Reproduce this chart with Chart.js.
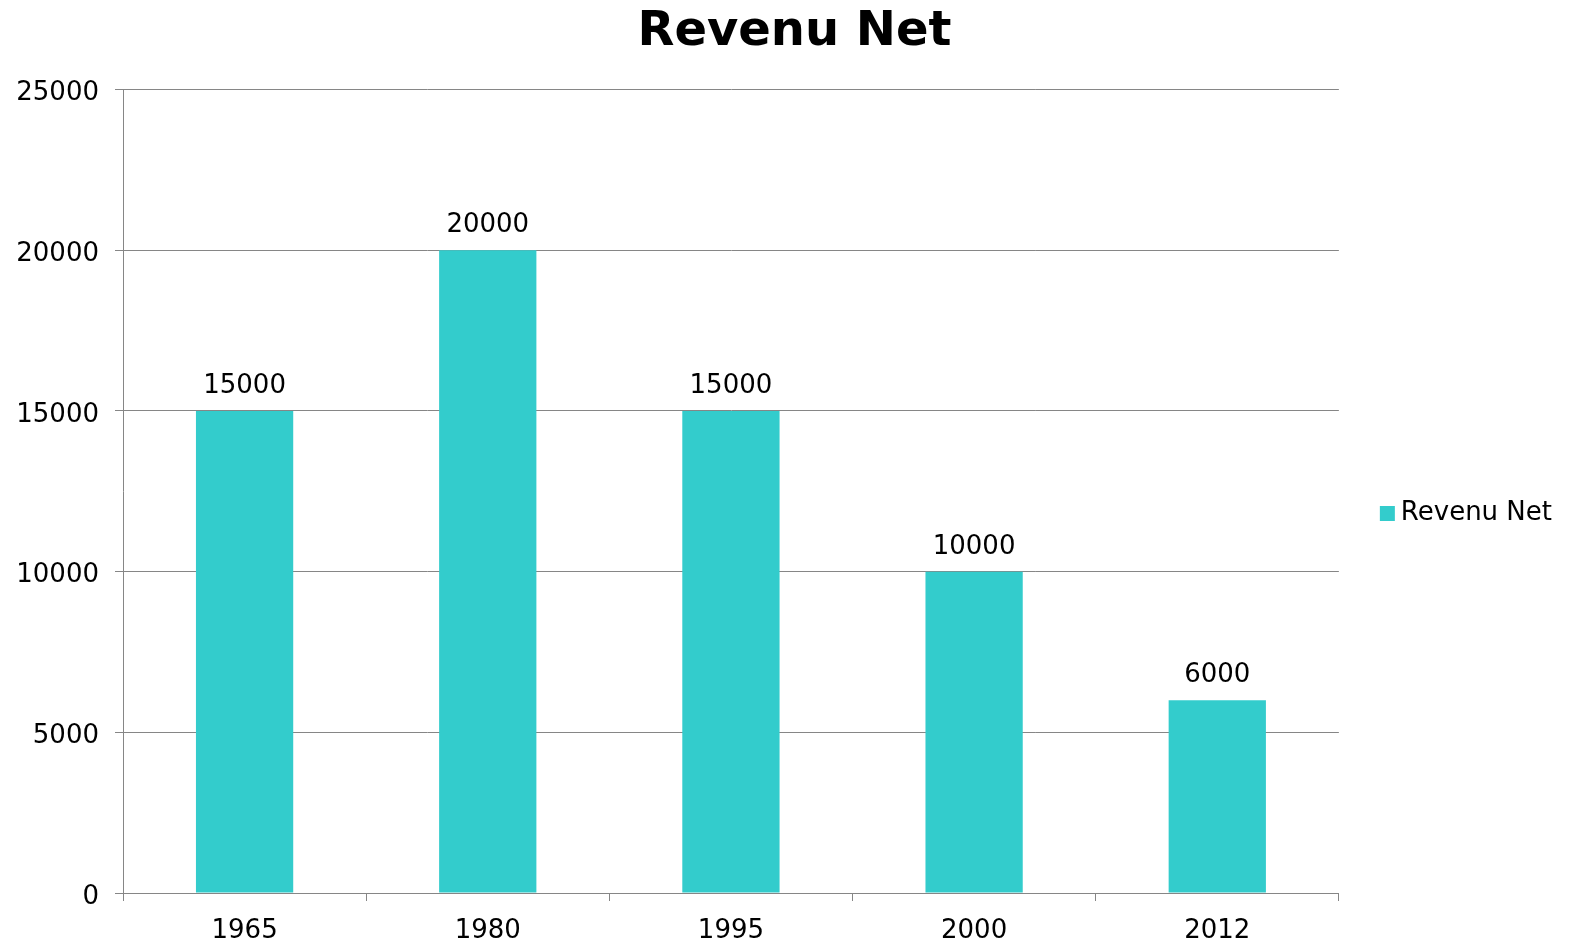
<!DOCTYPE html>
<html>
<head>
<meta charset="utf-8">
<script src="https://cdn.jsdelivr.net/npm/chart.js@4/dist/chart.umd.min.js"></script>
<style>
html,body{margin:0;padding:0;background:#fff;}
#wrap{width:1573px;height:943px;position:relative;}
</style>
</head>
<body>
<div id="wrap"><canvas id="c" width="1573" height="943"></canvas></div>
<script>
const categories = ['1965', '1980', '1995', '2000', '2012'];
const revenuNet = [15000, 20000, 15000, 10000, 6000];
const seriesName = 'Revenu Net';
const chartTitle = 'Revenu Net';
const yTicks = [0, 5000, 10000, 15000, 20000, 25000];

const FONT = 'DejaVu Sans';
const GRID = '#868686';
const BAR = '#33CCCC';

const barLabels = {
  id: 'barLabels',
  afterDatasetsDraw(chart) {
    const ctx = chart.ctx;
    ctx.save();
    ctx.font = '26px "' + FONT + '"';
    ctx.fillStyle = '#000';
    ctx.textAlign = 'center';
    ctx.textBaseline = 'alphabetic';
    chart.data.datasets.forEach((ds, di) => {
      chart.getDatasetMeta(di).data.forEach((el, i) => {
        ctx.fillText(String(ds.data[i]), el.x, el.y - 18);
      });
    });
    ctx.restore();
  }
};

// centre the title over the whole figure (as in the reference), not over the padded box
const titleShift = {
  id: 'titleShift',
  afterLayout(chart) {
    if (chart.titleBlock) {
      chart.titleBlock.left += 7;
      chart.titleBlock.right += 7;
    }
  }
};

new Chart(document.getElementById('c'), {
  type: 'bar',
  data: {
    labels: categories,
    datasets: [{
      label: seriesName,
      data: revenuNet,
      backgroundColor: BAR,
      borderColor: BAR,
      borderWidth: 0,
      categoryPercentage: 1.0,
      barPercentage: 0.4
    }]
  },
  plugins: [barLabels, titleShift],
  options: {
    responsive: false,
    animation: false,
    devicePixelRatio: 1,
    layout: { padding: { left: 13, right: 11, top: 0, bottom: 0 } },
    plugins: {
      title: {
        display: true,
        text: chartTitle,
        color: '#000',
        font: { family: FONT, size: 48, weight: 'bold', lineHeight: 1.2 },
        padding: { top: 4, bottom: 28 }
      },
      legend: {
        display: true,
        position: 'right',
        title: { display: true, text: '', font: { size: 10, lineHeight: 1 }, padding: { top: 37, bottom: 37 } },
        labels: {
          color: '#000',
          font: { family: FONT, size: 26 },
          boxWidth: 1,
          boxHeight: 1,
          padding: 48,
          generateLabels(chart) {
            return chart.data.datasets.map((ds, i) => ({
              text: ds.label,
              fillStyle: ds.backgroundColor,
              strokeStyle: ds.backgroundColor,
              fontColor: '#000',
              lineWidth: 14,
              lineJoin: 'miter',
              hidden: false,
              datasetIndex: i
            }));
          }
        }
      },
      tooltip: { enabled: false }
    },
    scales: {
      x: {
        grid: { display: true, offset: true, drawOnChartArea: false, drawTicks: true, tickLength: 8, color: GRID, lineWidth: 1 },
        border: { display: true, color: GRID, width: 1 },
        ticks: { color: '#000', font: { family: FONT, size: 26 }, padding: 15 },
        afterFit(scale) { scale.height = 50; }
      },
      y: {
        min: 0,
        max: 25000,
        afterBuildTicks(scale) { scale.ticks = yTicks.map(v => ({ value: v })); },
        grid: { display: true, drawTicks: true, tickLength: 8, color: GRID, lineWidth: 1 },
        border: { display: true, color: GRID, width: 1 },
        ticks: { color: '#000', font: { family: FONT, size: 26 }, padding: 16, labelOffset: 4, callback: (v) => String(v) },
        afterFit(scale) { scale.width = 110; }
      }
    }
  }
});
</script>
</body>
</html>
